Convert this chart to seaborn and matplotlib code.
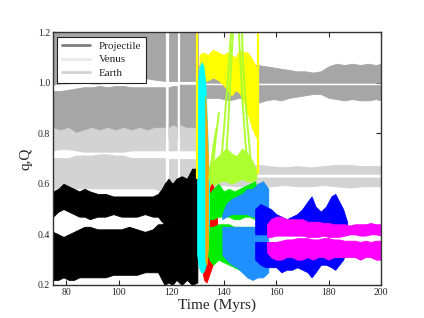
import numpy as np
import pandas as pd
import matplotlib
matplotlib.use("Agg")
import matplotlib.pyplot as plt
from matplotlib.lines import Line2D
import seaborn as sns

nan = np.nan

# --- Projectile (black), before the break-up ---
t_proj = [75, 77, 79, 81, 83, 85, 87, 89, 92, 95, 98, 101, 104, 107, 110, 113, 115, 116.5,
          117.5, 119, 120.5, 122, 124, 126, 128, 130]
proj_q_lo = [0.22, 0.22, 0.23, 0.22, 0.22, 0.23, 0.23, 0.23, 0.23, 0.23, 0.24, 0.24, 0.24,
             0.24, 0.25, 0.25, 0.25, 0.22, 0.20, 0.21, 0.20, 0.22, 0.20, 0.22, 0.20, 0.21]
proj_q_hi = [0.41, 0.40, 0.39, 0.40, 0.41, 0.42, 0.43, 0.43, 0.42, 0.42, 0.42, 0.42, 0.43,
             0.42, 0.41, 0.42, 0.44, 0.44, 0.45, 0.45, 0.44, 0.46, 0.45, 0.46, 0.46, 0.46]
proj_Q_lo = [0.47, 0.49, 0.50, 0.49, 0.48, 0.47, 0.47, 0.46, 0.47, 0.47, 0.48, 0.47, 0.47,
             0.47, 0.48, 0.47, 0.47, 0.45, 0.45, 0.45, 0.44, 0.46, 0.45, 0.46, 0.46, 0.46]
proj_Q_hi = [0.57, 0.58, 0.60, 0.59, 0.58, 0.57, 0.58, 0.57, 0.56, 0.56, 0.55, 0.55, 0.55,
             0.55, 0.55, 0.55, 0.56, 0.58, 0.60, 0.62, 0.60, 0.62, 0.63, 0.62, 0.66, 0.66]

# --- Earth and Venus, first part (with two short data gaps) ---
t_pl1 = [75, 78, 81, 84, 87, 90, 93, 96, 99, 102, 105, 108, 111, 114, 117.8, 118.0, 119.0,
         119.2, 121, 122.3, 122.5, 123.3, 123.5, 126, 128, 130.3]
earth1_q_lo = [0.80, 0.79, 0.81, 0.80, 0.79, 0.80, 0.80, 0.81, 0.80, 0.80, 0.79, 0.80, 0.80,
               0.79, 0.78, nan, nan, 0.78, 0.78, 0.78, nan, nan, 0.78, 0.77, 0.76, 0.76]
earth1_q_hi = [0.965, 0.965, 0.97, 0.975, 0.98, 0.98, 0.985, 0.98, 0.985, 0.985, 0.98, 0.98,
               0.98, 0.98, 0.98, nan, nan, 0.98, 0.985, 0.985, nan, nan, 0.99, 0.99, 0.99, 0.99]
earth1_Q_lo = [0.99, 0.995, 0.995, 1.0, 1.0, 0.995, 0.995, 1.0, 1.0, 1.0, 1.0, 1.01, 1.015,
               1.01, 1.005, nan, nan, 1.005, 1.005, 1.005, nan, nan, 1.005, 1.005, 1.005, 1.005]
earth1_Q_hi = [1.25, 1.25, 1.25, 1.25, 1.25, 1.25, 1.25, 1.25, 1.25, 1.25, 1.25, 1.25, 1.25,
               1.25, 1.25, nan, nan, 1.25, 1.25, 1.25, nan, nan, 1.25, 1.25, 1.25, 1.25]
venus1_q_lo = [0.58, 0.58, 0.58, 0.58, 0.58, 0.58, 0.58, 0.58, 0.58, 0.58, 0.58, 0.58, 0.58,
               0.58, 0.56, nan, nan, 0.56, 0.56, 0.56, nan, nan, 0.56, 0.56, 0.56, 0.56]
venus1_q_hi = [0.70, 0.70, 0.70, 0.71, 0.71, 0.71, 0.715, 0.715, 0.71, 0.71, 0.70, 0.70, 0.70,
               0.70, 0.70, nan, nan, 0.70, 0.70, 0.70, nan, nan, 0.70, 0.70, 0.70, 0.70]
venus1_Q_lo = [0.73, 0.735, 0.735, 0.73, 0.725, 0.725, 0.725, 0.725, 0.725, 0.725, 0.73, 0.73,
               0.73, 0.73, 0.73, nan, nan, 0.73, 0.73, 0.73, nan, nan, 0.73, 0.73, 0.73, 0.73]
venus1_Q_hi = [0.82, 0.81, 0.82, 0.80, 0.81, 0.82, 0.81, 0.82, 0.81, 0.82, 0.81, 0.82, 0.81,
               0.82, 0.82, nan, nan, 0.82, 0.83, 0.82, nan, nan, 0.83, 0.82, 0.82, 0.82]

# --- Earth, second part ---
t_earth2 = [130.5, 134, 138, 142, 146, 150, 153, 156, 159, 162, 165, 168, 171, 174, 177, 180,
            183, 186, 189, 192, 195, 198, 200]
earth2_q_lo = [0.93, 0.94, 0.94, 0.93, 0.94, 0.93, 0.92, 0.93, 0.935, 0.93, 0.94, 0.945, 0.95,
               0.955, 0.955, 0.94, 0.935, 0.93, 0.935, 0.93, 0.93, 0.935, 0.93]
earth2_q_hi = [0.99] * 23
earth2_Q_lo = [1.0] * 23
earth2_Q_hi = [1.07, 1.06, 1.06, 1.07, 1.06, 1.07, 1.07, 1.065, 1.06, 1.055, 1.05, 1.045, 1.045,
               1.04, 1.045, 1.065, 1.075, 1.07, 1.075, 1.07, 1.075, 1.07, 1.075]

# --- Venus, second part ---
t_venus2 = [130.5, 135, 140, 145, 150, 153, 158, 163, 168, 173, 178, 183, 188, 193, 200]
venus2_q_lo = [0.59, 0.59, 0.595, 0.59, 0.59, 0.585, 0.59, 0.595, 0.59, 0.59, 0.595, 0.59, 0.585,
               0.59, 0.59]
venus2_q_hi = [0.625] * 15
venus2_Q_lo = [0.64] * 15
venus2_Q_hi = [0.67, 0.67, 0.665, 0.67, 0.67, 0.675, 0.67, 0.665, 0.67, 0.665, 0.67, 0.675, 0.675,
               0.67, 0.67]

# --- fragments after the break-up ---
t_cyan = [129.9, 130.6, 131.4, 132.2, 133.0, 133.8, 134.4]
cyan_lo = [0.32, 0.27, 0.25, 0.25, 0.27, 0.32, 0.45]
cyan_hi = [0.95, 1.05, 1.08, 1.07, 1.0, 0.80, 0.60]

t_orange = [133.0, 133.5, 134.0]
orange_lo = [0.30, 0.28, 0.35]
orange_hi = [0.95, 0.85, 0.70]

t_red = [131.5, 132.5, 133.5, 134.5, 135.5, 136.5, 137.5]
red_lo = [0.28, 0.22, 0.21, 0.24, 0.27, 0.30, 0.33]
red_hi = [0.45, 0.50, 0.55, 0.58, 0.60, 0.58, 0.50]

t_green = [133, 134.5, 136, 138, 140, 142, 144, 146, 148, 150, 152, 153]
green_q_lo = [0.35, 0.30, 0.28, 0.30, 0.29, 0.28, 0.27, 0.26, 0.25, 0.24, 0.26, 0.32]
green_q_hi = [0.43, 0.43, 0.43, 0.44, 0.44, 0.44, 0.43, 0.43, 0.43, 0.43, 0.43, 0.43]
green_Q_lo = [0.45, 0.46, 0.46, 0.47, 0.47, 0.47, 0.46, 0.46, 0.47, 0.47, 0.46, 0.45]
green_Q_hi = [0.52, 0.56, 0.58, 0.60, 0.57, 0.58, 0.57, 0.58, 0.59, 0.60, 0.61, 0.55]

t_dblue = [139.5, 141, 143, 145, 147, 149, 151, 153, 155, 157]
dblue_q_lo = [0.32, 0.30, 0.28, 0.27, 0.25, 0.23, 0.22, 0.23, 0.23, 0.25]
dblue_q_hi = [0.43, 0.43, 0.43, 0.43, 0.43, 0.43, 0.43, 0.43, 0.43, 0.42]
dblue_Q_lo = [0.46, 0.47, 0.48, 0.48, 0.48, 0.48, 0.47, 0.47, 0.46, 0.46]
dblue_Q_hi = [0.48, 0.52, 0.54, 0.55, 0.56, 0.58, 0.58, 0.60, 0.61, 0.58]

t_blue = [152, 154, 156, 158, 160, 162, 164, 166, 168, 170, 172, 173.5, 175, 177, 179, 181,
          182.5, 184, 185.5, 187]
blue_q_lo = [0.30, 0.28, 0.27, 0.27, 0.27, 0.25, 0.26, 0.26, 0.27, 0.26, 0.25, 0.23, 0.25, 0.28,
             0.28, 0.27, 0.26, 0.28, 0.30, 0.34]
blue_q_hi = [0.37] * 20
blue_Q_lo = [0.40] * 20
blue_Q_hi = [0.50, 0.52, 0.51, 0.50, 0.48, 0.47, 0.46, 0.47, 0.48, 0.50, 0.53, 0.55, 0.51, 0.49,
             0.51, 0.55, 0.56, 0.53, 0.50, 0.45]

t_mag = [156.5, 158, 160, 162, 164, 166, 168, 170, 172, 174, 176, 178, 180, 182, 184, 186,
         188, 190, 192, 194, 196, 198, 200]
mag_q_lo = [0.33, 0.31, 0.30, 0.30, 0.31, 0.31, 0.30, 0.30, 0.31, 0.30, 0.31, 0.31, 0.30, 0.31,
            0.31, 0.31, 0.31, 0.31, 0.30, 0.31, 0.31, 0.30, 0.30]
mag_q_hi = [0.37, 0.37, 0.37, 0.375, 0.38, 0.38, 0.385, 0.385, 0.385, 0.38, 0.38, 0.385, 0.385,
            0.38, 0.38, 0.375, 0.375, 0.375, 0.37, 0.375, 0.37, 0.375, 0.375]
mag_Q_lo = [0.39, 0.39, 0.395, 0.395, 0.395, 0.395, 0.395, 0.395, 0.39, 0.39, 0.39, 0.395, 0.39,
            0.39, 0.39, 0.395, 0.40, 0.40, 0.395, 0.395, 0.40, 0.40, 0.395]
mag_Q_hi = [0.44, 0.46, 0.47, 0.47, 0.46, 0.46, 0.46, 0.46, 0.45, 0.45, 0.45, 0.445, 0.445, 0.44,
            0.44, 0.44, 0.435, 0.44, 0.44, 0.44, 0.445, 0.44, 0.44]

t_yel = [130.8, 132, 134, 136, 138, 140, 141.5, 143, 144.5, 146, 147.5, 149, 150.5, 152, 152.8]
yel_lo = [1.00, 1.00, 1.01, 1.02, 1.01, 0.99, 0.97, 0.95, 0.97, 0.96, 0.93, 0.88, 0.83, 0.79, 0.78]
yel_hi = [1.11, 1.12, 1.11, 1.13, 1.12, 1.11, 1.12, 1.11, 1.10, 1.13, 1.12, 1.12, 1.10, 1.07, 1.05]
yel_spike_t = [130.0, 152.9]
yel_spike_lo = [0.62, 0.64]
yel_spike_hi = [1.2, 1.2]

t_yg = [133.5, 135, 137, 139, 141, 143, 145, 147, 149, 151, 152.5]
yg_lo = [0.58, 0.59, 0.60, 0.61, 0.61, 0.60, 0.61, 0.62, 0.61, 0.61, 0.62]
yg_hi = [0.64, 0.68, 0.70, 0.72, 0.74, 0.72, 0.71, 0.74, 0.72, 0.69, 0.65]
yg_streaks = [
    ([134.5, 136.0, 137.3], [0.62, 0.74, 0.82]),
    ([135.5, 137.0, 138.2], [0.62, 0.78, 0.88]),
    ([138.5, 140.0, 141.5, 142.5, 143.2], [0.62, 0.80, 1.00, 1.15, 1.25]),
    ([140.5, 141.8, 143.0, 143.8], [0.62, 0.85, 1.10, 1.25]),
    ([145.5, 146.3, 147.2, 148.2, 149.5], [1.25, 1.10, 0.92, 0.78, 0.62]),
    ([146.8, 147.5, 148.5, 149.8, 150.8], [1.25, 1.05, 0.90, 0.75, 0.62]),
]

sns.set_style("ticks")
plt.rcParams["font.family"] = ["Liberation Serif", "DejaVu Serif"]

fig = plt.figure(figsize=(4.24, 3.18), dpi=100)
ax = fig.add_axes([0.125, 0.104, 0.774, 0.795])


def band(t, lo, hi, color):
    ax.fill_between(t, lo, hi, color=color, lw=0.6, edgecolor=color)


def body(t, q_lo, q_hi, Q_lo, Q_hi, color):
    band(t, q_lo, q_hi, color)
    band(t, Q_lo, Q_hi, color)


earth_c = "#a6a6a6"
venus_c = "#d3d3d3"
body(t_pl1, earth1_q_lo, earth1_q_hi, earth1_Q_lo, earth1_Q_hi, earth_c)
body(t_pl1, venus1_q_lo, venus1_q_hi, venus1_Q_lo, venus1_Q_hi, venus_c)
body(t_proj, proj_q_lo, proj_q_hi, proj_Q_lo, proj_Q_hi, "black")
body(t_earth2, earth2_q_lo, earth2_q_hi, earth2_Q_lo, earth2_Q_hi, earth_c)
body(t_venus2, venus2_q_lo, venus2_q_hi, venus2_Q_lo, venus2_Q_hi, venus_c)

band(t_yel, yel_lo, yel_hi, "#ffff00")
ax.vlines(yel_spike_t, yel_spike_lo, yel_spike_hi, color="#ffff00", lw=1.6)
band(t_yg, yg_lo, yg_hi, "#adff2f")
for st, sy in yg_streaks:
    sns.lineplot(x=st, y=sy, ax=ax, color="#adff2f", lw=1.4, sort=False, estimator=None)
band(t_red, red_lo, red_hi, "#ff0000")
body(t_green, green_q_lo, green_q_hi, green_Q_lo, green_Q_hi, "#00ee00")
body(t_dblue, dblue_q_lo, dblue_q_hi, dblue_Q_lo, dblue_Q_hi, "#1e90ff")
body(t_blue, blue_q_lo, blue_q_hi, blue_Q_lo, blue_Q_hi, "#0000ff")
body(t_mag, mag_q_lo, mag_q_hi, mag_Q_lo, mag_Q_hi, "#ff00ff")
band(t_cyan, cyan_lo, cyan_hi, "#00ffff")
band(t_orange, orange_lo, orange_hi, "#ffa500")

ax.set_xlim(75, 200)
ax.set_ylim(0.2, 1.2)
ax.set_xticks([80, 100, 120, 140, 160, 180, 200])
ax.set_yticks([0.2, 0.4, 0.6, 0.8, 1.0, 1.2])
ax.set_yticklabels(["0.2", "0.4", "0.6", "0.8", "1.0", "1.2"])
ax.tick_params(direction="in", top=True, right=True, labelsize=7, length=3.5, width=0.8,
               pad=2)
for s in ax.spines.values():
    s.set_linewidth(1.0)
    s.set_color("#333333")
ax.set_xlabel("Time (Myrs)", fontsize=11, labelpad=1)
ax.set_ylabel("q,Q", fontsize=11, labelpad=4)

handles = [Line2D([], [], color="black", lw=2, alpha=0.5),
           Line2D([], [], color=venus_c, lw=2, alpha=0.5),
           Line2D([], [], color=earth_c, lw=2, alpha=0.5)]
leg = ax.legend(handles, ["Projectile", "Venus", "Earth"], loc="upper left", fontsize=8,
                frameon=True, fancybox=False, edgecolor="#222222", framealpha=1,
                borderaxespad=0.4, handlelength=2.5, labelspacing=0.35, borderpad=0.4)
leg.get_frame().set_linewidth(0.8)

fig.savefig("out.png", dpi=100)
